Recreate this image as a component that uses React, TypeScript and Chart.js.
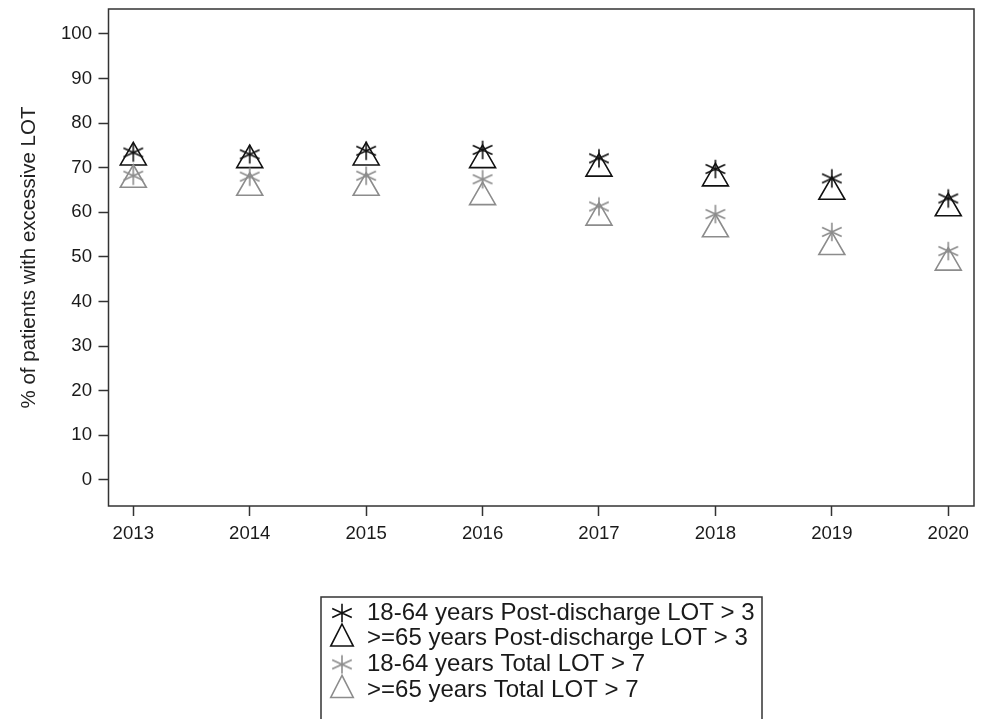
import React, { useEffect, useRef } from "react";
import { Chart, registerables } from "chart.js";

Chart.register(...registerables);

const FONT = "'Liberation Sans', Arial, Helvetica, sans-serif";
Chart.defaults.font.family = FONT;

// ---- data ----
const years = [2013, 2014, 2015, 2016, 2017, 2018, 2019, 2020];
const postDischarge1864 = [73.4, 73.0, 73.8, 74.0, 72.1, 69.7, 67.6, 63.1];
const postDischarge65 = [72.3, 71.7, 72.3, 71.7, 69.8, 67.6, 64.6, 60.9];
const total1864 = [68.2, 68.0, 68.2, 67.4, 61.3, 59.6, 55.6, 51.3];
const total65 = [67.3, 65.5, 65.5, 63.4, 58.8, 56.2, 52.2, 48.7];
const yTickValues = [0, 10, 20, 30, 40, 50, 60, 70, 80, 90, 100];
const seriesLabels = [
  "18-64 years Post-discharge LOT > 3",
  ">=65 years Post-discharge LOT > 3",
  "18-64 years Total LOT > 7",
  ">=65 years Total LOT > 7",
];
const yTitle = "% of patients with excessive LOT";

const BLACK = "#111111";
const GRAY = "#8c8c8c";
const FRAME = "#333333";

function makeAsterisk(color: string): HTMLCanvasElement {
  const s = 26;
  const c = document.createElement("canvas");
  c.width = s;
  c.height = s;
  const g = c.getContext("2d")!;
  g.strokeStyle = color;
  g.lineWidth = 1.6;
  const cx = s / 2;
  const cy = s / 2;
  const rv = 9.3;
  const rd = 10.8;
  const a = (25 * Math.PI) / 180;
  g.beginPath();
  g.moveTo(cx, cy - rv);
  g.lineTo(cx, cy + rv);
  g.moveTo(cx - rd * Math.cos(a), cy - rd * Math.sin(a));
  g.lineTo(cx + rd * Math.cos(a), cy + rd * Math.sin(a));
  g.moveTo(cx - rd * Math.cos(a), cy + rd * Math.sin(a));
  g.lineTo(cx + rd * Math.cos(a), cy - rd * Math.sin(a));
  g.stroke();
  return c;
}

const toPoints = (vals: number[]) => years.map((x, i) => ({ x, y: vals[i] }));

export default function App() {
  const ref = useRef<HTMLCanvasElement | null>(null);

  useEffect(() => {
    if (!ref.current) return;
    const starBlack = makeAsterisk(BLACK);
    const starGray = makeAsterisk(GRAY);

    const legendPlacer = {
      id: "legendPlacer",
      afterLayout(chart: any) {
        const lg = chart.legend;
        if (!lg) return;
        lg.left = 327.3;
        lg.top = 599.3;
        lg.right = 762;
        lg.bottom = 719;
        lg.width = lg.right - lg.left;
        lg.height = lg.bottom - lg.top;
      },
      afterDraw(chart: any) {
        const ctx = chart.ctx;
        const a = chart.chartArea;
        ctx.save();
        ctx.strokeStyle = FRAME;
        ctx.lineWidth = 1.5;
        ctx.strokeRect(a.left, a.top, a.right - a.left, a.bottom - a.top);
        ctx.strokeRect(321, 597, 441, 200);
        ctx.restore();
      },
    };

    const chart = new Chart(ref.current, {
      type: "scatter",
      data: {
        datasets: [
          {
            label: seriesLabels[0],
            data: toPoints(postDischarge1864),
            pointStyle: starBlack as any,
            pointRadius: 10,
            pointBorderColor: BLACK,
            pointBackgroundColor: "rgba(0,0,0,0)",
            pointBorderWidth: 1.6,
            order: 3,
          },
          {
            label: seriesLabels[1],
            data: toPoints(postDischarge65),
            pointStyle: "triangle",
            pointRadius: 15,
            pointBorderColor: BLACK,
            pointBackgroundColor: "rgba(0,0,0,0)",
            pointBorderWidth: 1.6,
            order: 2,
          },
          {
            label: seriesLabels[2],
            data: toPoints(total1864),
            pointStyle: starGray as any,
            pointRadius: 10,
            pointBorderColor: GRAY,
            pointBackgroundColor: "rgba(0,0,0,0)",
            pointBorderWidth: 1.6,
            order: 1,
          },
          {
            label: seriesLabels[3],
            data: toPoints(total65),
            pointStyle: "triangle",
            pointRadius: 15,
            pointBorderColor: GRAY,
            pointBackgroundColor: "rgba(0,0,0,0)",
            pointBorderWidth: 1.6,
            order: 0,
          },
        ],
      },
      options: {
        responsive: false,
        animation: false,
        devicePixelRatio: 1,
        events: [],
        layout: { autoPadding: false, padding: { left: 0, top: 9, right: 10, bottom: 0 } },
        scales: {
          x: {
            type: "linear",
            min: 2012.787,
            max: 2020.221,
            afterBuildTicks: (scale: any) => {
              scale.ticks = years.map((v) => ({ value: v }));
            },
            afterFit: (scale: any) => {
              const lg = scale.chart.legend;
              const lh = lg ? lg.height : 0;
              scale.height = 213 - lh;
              scale.paddingLeft = 0;
              scale.paddingRight = 0;
            },
            ticks: {
              callback: (v: any) => String(v),
              font: { size: 18.6, family: FONT },
              color: "#1a1a1a",
              padding: 7,
              maxRotation: 0,
              autoSkip: false,
            },
            grid: {
              display: true,
              drawOnChartArea: false,
              drawTicks: true,
              tickLength: 10,
              tickColor: FRAME,
              tickWidth: 1.5,
            },
            border: { display: false },
          },
          y: {
            type: "linear",
            min: -5.88,
            max: 105.6,
            afterBuildTicks: (scale: any) => {
              scale.ticks = yTickValues.map((v) => ({ value: v }));
            },
            afterFit: (scale: any) => {
              scale.width = 108.5;
              scale.paddingTop = 0;
              scale.paddingBottom = 0;
            },
            ticks: {
              callback: (v: any) => String(v),
              font: { size: 18.6, family: FONT },
              color: "#1a1a1a",
              padding: 6.5,
              autoSkip: false,
            },
            grid: {
              display: true,
              drawOnChartArea: false,
              drawTicks: true,
              tickLength: 10,
              tickColor: FRAME,
              tickWidth: 1.5,
            },
            border: { display: false },
            title: {
              display: true,
              text: yTitle,
              font: { size: 20.5, family: FONT },
              color: "#222222",
              padding: { top: 17.5, bottom: 0 },
            },
          },
        },
        plugins: {
          tooltip: { enabled: false },
          legend: {
            display: true,
            position: "bottom",
            align: "start",
            labels: {
              usePointStyle: true,
              pointStyleWidth: 26,
              boxWidth: 26,
              boxHeight: 20.8,
              padding: 1.7,
              color: "#1a1a1a",
              font: { size: 24, family: FONT },
              sort: (a: any, b: any) => a.datasetIndex - b.datasetIndex,
            },
          },
        },
      },
      plugins: [legendPlacer as any],
    } as any);

    return () => {
      chart.destroy();
    };
  }, []);

  return (
    <div style={{ position: "fixed", left: 0, top: 0, width: 984, height: 719, background: "#fff" }}>
      <canvas ref={ref} width={984} height={719} style={{ display: "block" }} />
    </div>
  );
}
